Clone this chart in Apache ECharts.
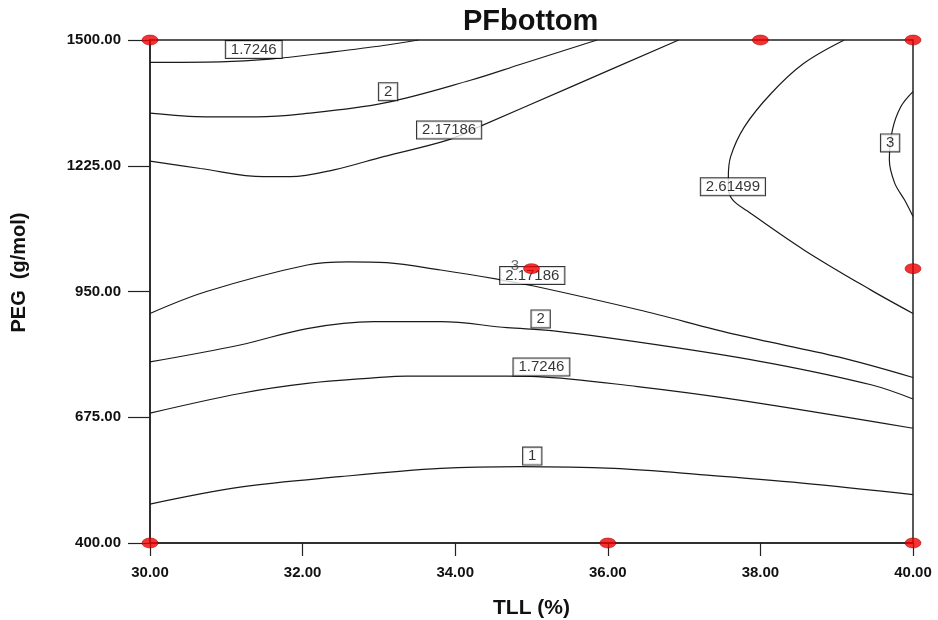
<!DOCTYPE html>
<html style="height: 100%">
<head>
    <meta charset="utf-8">
</head>
<body style="height: 100%; margin: 0; background: #fff">
<div id="container" style="width: 938px; height: 620px"></div>
<script type="text/javascript" src="https://cdn.jsdelivr.net/npm/echarts@6.0.0/dist/echarts.min.js"></script>
<script type="text/javascript">
  // contour lines, [TLL (%), PEG (g/mol)]
  const c1 = [[30, 485], [31.18, 522], [32.49, 545], [33.81, 563], [34.86, 567], [36.08, 563], [37.26, 549], [38.55, 531], [40, 506]];
  const c17246Low = [[30, 684], [31.18, 727], [32.06, 749], [32.93, 761], [33.37, 765], [34.68, 765], [35.07, 764], [36.39, 742], [37.70, 713], [40, 651]];
  const c2Low = [[30, 796], [31.18, 833], [32.06, 869], [32.93, 884], [33.81, 884], [34.68, 871], [35.29, 864], [36.83, 829], [38.14, 793], [39.45, 746], [40, 715]];
  const c217Low = [[30, 902], [30.74, 950], [32.06, 1008], [32.60, 1015], [33.10, 1013], [33.81, 997], [34.55, 977], [35.03, 962], [36.40, 910], [37.70, 855], [39.02, 807], [40, 762]];
  const c17246Top = [[30, 1451], [30.92, 1452], [31.57, 1458], [32.40, 1474], [33.06, 1488], [33.52, 1500]];
  const c2Top = [[30, 1340], [30.74, 1332], [31.40, 1332], [31.97, 1338], [33.06, 1362], [34.20, 1412], [34.86, 1447], [35.86, 1500]];
  const c217Top = [[30, 1235], [30.66, 1219], [31.49, 1201], [31.84, 1201], [32.41, 1216], [33.06, 1245], [33.90, 1281], [34.31, 1310], [35.51, 1397], [36.93, 1500]];
  const c2615 = [[39.10, 1500], [38.57, 1449], [38.14, 1383], [37.79, 1310], [37.61, 1245], [37.58, 1201], [37.58, 1176], [37.64, 1150], [37.83, 1126], [38.57, 1041], [39.45, 953], [40, 902]];
  const c3 = [[40, 1387], [39.84, 1354], [39.73, 1303], [39.69, 1238], [39.76, 1187], [39.89, 1150], [40, 1114]];

  const contours = [c1, c17246Low, c2Low, c217Low, c17246Top, c2Top, c217Top, c2615, c3];

  // contour value boxes
  const labelText = ['1.7246', '2', '2.17186', '2.61499', '3', '2.17186', '2', '1.7246', '1'];
  const labelTLL = [31.36, 33.12, 33.92, 37.64, 39.70, 35.01, 35.12, 35.13, 35.01];
  const labelPEG = [1479, 1387, 1303, 1179, 1275, 985, 890, 785, 590];

  // design points
  const designTLL = [30, 38, 40, 35, 40, 30, 36, 40];
  const designPEG = [1500, 1500, 1500, 1000, 1000, 400, 400, 400];
  const designReps = [1, 1, 1, 3, 1, 1, 1, 1];

  const yTicks = [400, 675, 950, 1225, 1500];

  var dom = document.getElementById("container");
  var myChart = echarts.init(dom, null, { renderer: 'canvas' });
  var font = 'Liberation Sans, Arial, sans-serif';

  var series = contours.map(function (pts) {
    return {
      type: 'line',
      data: pts,
      smooth: 0.35,
      symbol: 'none',
      clip: true,
      silent: true,
      lineStyle: { color: '#1a1a1a', width: 1.2 },
      z: 2
    };
  });

  series.push({
    type: 'scatter',
    silent: true,
    symbol: 'rect',
    symbolSize: 1,
    itemStyle: { color: 'rgba(0,0,0,0)' },
    z: 3,
    data: labelText.map(function (t, i) {
      return { value: [labelTLL[i], labelPEG[i]], name: t };
    }),
    label: {
      show: true,
      position: 'inside',
      formatter: '{b}',
      fontFamily: font,
      fontSize: 15,
      lineHeight: 15,
      color: '#000',
      backgroundColor: '#fff',
      borderColor: '#000',
      borderWidth: 1,
      padding: [1, 5, 1, 5]
    }
  });

  series.push({
    type: 'scatter',
    silent: true,
    symbol: 'circle',
    symbolSize: [16, 10],
    itemStyle: { color: '#f00000', borderColor: '#8a0000', borderWidth: 0.6 },
    z: 5,
    data: designTLL.map(function (x, i) {
      var item = { value: [x, designPEG[i]] };
      if (designReps[i] > 1) {
        item.label = {
          show: true,
          position: 'left',
          distance: 4,
          offset: [0, -3],
          formatter: String(designReps[i]),
          fontFamily: font,
          fontSize: 15,
          color: '#444'
        };
      }
      return item;
    })
  });

  var option = {
    animation: false,
    backgroundColor: '#fff',
    title: {
      text: 'PFbottom',
      left: 463,
      top: 7,
      padding: 0,
      textStyle: { fontFamily: font, fontSize: 29, fontWeight: 'bold', color: '#111' }
    },
    grid: {
      left: 150, right: 25, top: 40, bottom: 77,
      containLabel: false,
      outerBoundsMode: 'none',
      show: true,
      borderColor: '#222',
      borderWidth: 1.5,
      backgroundColor: 'transparent'
    },
    xAxis: {
      type: 'value',
      min: 30,
      max: 40,
      interval: 2,
      name: 'TLL (%)',
      nameLocation: 'middle',
      nameGap: 55,
      nameTextStyle: { fontFamily: font, fontSize: 21, fontWeight: 'bold', color: '#111' },
      axisLine: { lineStyle: { color: '#222', width: 1.5 } },
      axisTick: { inside: false, length: 13, lineStyle: { color: '#222', width: 1.2 } },
      axisLabel: {
        margin: 22,
        fontFamily: font, fontSize: 15, fontWeight: 'bold', color: '#111',
        formatter: function (v) { return v.toFixed(2); }
      },
      splitLine: { show: false }
    },
    yAxis: {
      type: 'value',
      min: 400,
      max: 1500,
      name: 'PEG  (g/mol)',
      nameLocation: 'middle',
      nameGap: 121,
      nameTextStyle: { fontFamily: font, fontSize: 20, fontWeight: 'bold', color: '#111', padding: [0, 0, 0, 38] },
      axisLine: { lineStyle: { color: '#222', width: 1.5 } },
      axisTick: { inside: false, length: 22, customValues: yTicks, lineStyle: { color: '#222', width: 1.2 } },
      axisLabel: {
        margin: 29,
        customValues: yTicks,
        fontFamily: font, fontSize: 15, fontWeight: 'bold', color: '#111',
        formatter: function (v) { return v.toFixed(2); }
      },
      splitLine: { show: false }
    },
    series: series
  };

  myChart.setOption(option);
</script>
</body>
</html>
